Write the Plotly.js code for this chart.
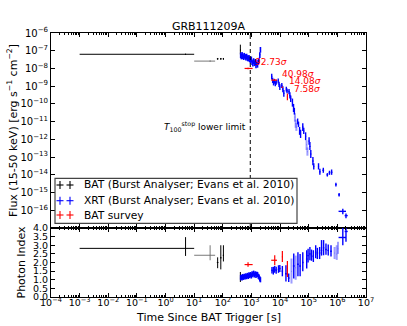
<!DOCTYPE html>
<html><head><meta charset="utf-8">
<script src="https://cdn.plot.ly/plotly-3.0.1.min.js"></script>
<style>html,body{margin:0;padding:0;background:#fff}</style>
</head><body><div id="chart" style="width:407px;height:326px"></div>
<script>
// ---------------- data ----------------
const chartTitle = 'GRB111209A';
const t100Stop = 910;

// BAT (Burst Analyser) - dark points
const batT    = [5, 66, 85, 105, 410];
const batTlo  = [0.001, 62, 80, 100, 400];
const batThi  = [10, 70, 90, 110, 420];
const batF    = [6.3e-8, 3.5e-8, 3.5e-8, 3.5e-8, 1.1e-7];
const batFlo  = [5.8e-8, 3.1e-8, 3.1e-8, 3.1e-8, 6.2e-8];
const batFhi  = [6.8e-8, 3.9e-8, 3.9e-8, 3.9e-8, 2.2e-7];
const batIdx   = [2.82, 2.0, 2.27, 2.42, 1.1];
const batIdxLo = [2.38, 1.67, 1.6, 2.06, 0.87];
const batIdxHi = [3.47, 2.3, 3.0, 3.0, 1.45];
// BAT - lighter bin
const batLT    = [36];
const batLTlo  = [10];
const batLThi  = [54];
const batLF    = [2.6e-8];
const batLFlo  = [2.4e-8];
const batLFhi  = [2.8e-8];
const batLIdx   = [2.42];
const batLIdxLo = [2.13];
const batLIdxHi = [3.0];

// XRT WT mode
const wtT = [420, 445, 470, 500, 530, 565, 600, 640, 680, 725, 770, 820, 875, 930, 990, 1050, 1120, 1190, 1270, 1350, 1440, 1530, 1630, 1740, 1850, 1960, 2060];
const wtF = [5.8e-8, 5.0e-8, 6.2e-8, 5.3e-8, 4.6e-8, 5.6e-8, 4.9e-8, 4.3e-8, 5.0e-8, 4.1e-8, 3.8e-8, 4.3e-8, 3.4e-8, 3.0e-8, 3.5e-8, 2.4e-8, 2.0e-8, 2.8e-8, 2.1e-8, 2.5e-8, 1.6e-8, 2.3e-8, 1.7e-8, 2.4e-8, 3.0e-8, 6.0e-8, 1.2e-7];
const wtIdx = [1.12, 1.15, 1.10, 1.18, 1.14, 1.20, 1.16, 1.22, 1.18, 1.25, 1.20, 1.28, 1.24, 1.30, 1.22, 1.35, 1.30, 1.38, 1.28, 1.35, 1.25, 1.32, 1.30, 1.20, 1.15, 1.05, 1.00];

// XRT PC mode flux
const pcT   = [5100, 5500, 5900, 6300, 6800, 7300, 8600, 9200, 9800, 11500, 12500, 13500, 16500, 17500, 20500, 22000, 23500, 27000, 29500, 31500, 41000, 44000, 48000, 52000, 62000, 67000, 78000, 103000, 110000, 118000, 140000, 150000, 220000, 245000, 323000, 447000, 530000, 630000, 890000, 1150000, 1550000, 2000000];
const pcF   = [3.5e-9, 2.2e-9, 1.6e-9, 1.9e-9, 1.4e-9, 1.7e-9, 2.0e-9, 1.3e-9, 9e-10, 1.1e-9, 7e-10, 4e-10, 7e-10, 5.5e-10, 5e-10, 3e-10, 2e-10, 1.2e-10, 6e-11, 4e-11, 1.0e-11, 7e-12, 3e-12, 2e-12, 5e-12, 3e-12, 1.5e-12, 8e-13, 4e-13, 1.5e-13, 6e-14, 3e-14, 3e-14, 1.5e-14, 1.8e-14, 1.0e-14, 1.3e-14, 1.4e-14, 2.8e-15, 7.5e-16, 8.7e-17, 5e-17];
const pcFlo = [2.4e-9, 1.5e-9, 1.1e-9, 1.4e-9, 1.0e-9, 1.2e-9, 1.4e-9, 9e-10, 6e-10, 8e-10, 4.5e-10, 2.5e-10, 5e-10, 4e-10, 3.5e-10, 2e-10, 1.3e-10, 7e-11, 3.5e-11, 2.5e-11, 7e-12, 5e-12, 1.8e-12, 1.2e-12, 3e-12, 2e-12, 9e-13, 5e-13, 2.5e-13, 9e-14, 3.5e-14, 2e-14, 2e-14, 1e-14, 1.3e-14, 8e-15, 1e-14, 1e-14, 2.2e-15, 6e-16, 6e-17, 3.5e-17];
const pcFhi = [5.0e-9, 3.0e-9, 2.2e-9, 2.6e-9, 1.9e-9, 2.3e-9, 2.7e-9, 1.8e-9, 1.3e-9, 1.5e-9, 1.0e-9, 6e-10, 9.3e-10, 7.5e-10, 7e-10, 4.5e-10, 3e-10, 2e-10, 1e-10, 6e-11, 1.5e-11, 1e-11, 5e-12, 3.5e-12, 8e-12, 4.5e-12, 2.5e-12, 1.3e-12, 7e-13, 2.5e-13, 1e-13, 4.5e-14, 4.5e-14, 2.2e-14, 2.5e-14, 1.25e-14, 1.7e-14, 2e-14, 3.6e-15, 9.5e-16, 1.2e-16, 6.5e-17];
const pcTlo = [4900, 5300, 5700, 6100, 6550, 7050, 8300, 8900, 9500, 11000, 12000, 13000, 16000, 17000, 19800, 21200, 22700, 26000, 28500, 30500, 39500, 42500, 46000, 50000, 60000, 64500, 75000, 99000, 106000, 114000, 135000, 145000, 210000, 235000, 300000, 420000, 500000, 590000, 840000, 1080000, 1100000, 1800000];
const pcThi = [5300, 5700, 6100, 6550, 7050, 7600, 8900, 9500, 10100, 12000, 13000, 14000, 17000, 18000, 21200, 22700, 24300, 28000, 30500, 32500, 42500, 45500, 50000, 54000, 64500, 69500, 81000, 106000, 114000, 122000, 145000, 155000, 230000, 255000, 345000, 475000, 560000, 670000, 940000, 1220000, 2000000, 2300000];
// XRT PC flux - lighter bins
const pcLT   = [33000, 35000, 37000, 84000, 90000];
const pcLF   = [1.8e-11, 8e-12, 5e-12, 5e-13, 2e-13];
const pcLFlo = [1e-11, 4.5e-12, 3e-12, 2.5e-13, 1.2e-13];
const pcLFhi = [3e-11, 1.3e-11, 8e-12, 9e-13, 3.5e-13];

// XRT PC photon index
const piT    = [5200, 5800, 6500, 7300, 8800, 9800, 12000, 16000, 20000, 30000, 42000, 50000, 62000, 85000, 95000, 110000, 125000, 145000, 175000, 200000, 240000, 280000, 330000, 400000, 480000, 600000, 1550000, 2000000];
const piIdx  = [1.55, 1.50, 1.60, 1.55, 1.60, 1.65, 1.50, 1.35, 1.10, 1.80, 1.90, 1.80, 2.00, 2.20, 2.40, 2.50, 2.40, 2.35, 2.60, 2.50, 2.55, 2.70, 2.85, 2.75, 2.70, 2.65, 3.45, 3.80];
const piLo   = [1.36, 1.30, 1.40, 1.35, 1.40, 1.45, 1.20, 0.90, 0.87, 1.07, 1.20, 1.20, 1.50, 1.65, 2.00, 2.13, 2.10, 2.03, 2.25, 2.20, 2.20, 2.40, 2.42, 2.45, 2.40, 2.35, 3.00, 3.20];
const piHi   = [1.74, 1.75, 1.80, 1.75, 1.84, 1.85, 1.80, 1.84, 1.36, 2.52, 2.60, 2.50, 2.60, 2.71, 2.80, 2.90, 2.75, 2.71, 3.00, 2.85, 2.90, 3.30, 3.30, 3.10, 3.05, 3.00, 4.20, 4.30];
const piTlo  = [5000, 5500, 6150, 6900, 8300, 9300, 11300, 15000, 18700, 28000, 39500, 47000, 58500, 80000, 90000, 104000, 118000, 137000, 165000, 189000, 226000, 264000, 311000, 377000, 452000, 565000, 1100000, 1800000];
const piThi  = [5500, 6150, 6900, 7700, 9300, 10300, 12700, 17000, 21300, 32000, 44500, 53000, 65500, 90000, 100000, 116000, 132000, 153000, 185000, 211000, 254000, 296000, 349000, 423000, 508000, 635000, 2000000, 2300000];
const piLT   = [25000, 35000, 800000, 950000, 1050000];
const piLIdx = [1.50, 1.70, 2.55, 2.50, 2.80];
const piLLo  = [0.78, 1.00, 2.20, 2.15, 2.50];
const piLHi  = [2.23, 2.40, 2.90, 3.00, 3.20];

// BAT survey
const redT    = [760, 6500, 12000, 18000];
const redTlo  = [575, 4900, 11600, 17600];
const redThi  = [1100, 7800, 12400, 18400];
const redF    = [1.0e-8, 2.2e-9, 8.5e-10, 2.5e-10];
const redFlo  = [9.0e-9, 2.0e-9, 7.8e-10, 1.6e-10];
const redFhi  = [1.1e-8, 2.4e-9, 9.3e-10, 3.9e-10];
const redIdx   = [1.88, 2.13, 2.33, 1.65];
const redIdxLo = [1.75, 1.84, 2.03, 1.16];
const redIdxHi = [2.01, 2.42, 2.66, 2.09];
const redSig   = ['92.73', '40.98', '14.08', '7.58'];

// ticks
const xTickVals = [1e-4, 1e-3, 1e-2, 1e-1, 1e0, 1e1, 1e2, 1e3, 1e4, 1e5, 1e6, 1e7];
const xTickText = ['10<sup>−4</sup>', '10<sup>−3</sup>', '10<sup>−2</sup>', '10<sup>−1</sup>', '10<sup>0</sup>', '10<sup>1</sup>', '10<sup>2</sup>', '10<sup>3</sup>', '10<sup>4</sup>', '10<sup>5</sup>', '10<sup>6</sup>', '10<sup>7</sup>'];
const yTickVals = [1e-16, 1e-15, 1e-14, 1e-13, 1e-12, 1e-11, 1e-10, 1e-9, 1e-8, 1e-7, 1e-6];
const yTickText = ['10<sup>−16</sup>', '10<sup>−15</sup>', '10<sup>−14</sup>', '10<sup>−13</sup>', '10<sup>−12</sup>', '10<sup>−11</sup>', '10<sup>−10</sup>', '10<sup>−9</sup>', '10<sup>−8</sup>', '10<sup>−7</sup>', '10<sup>−6</sup>'];
const idxTickVals = [0, 0.5, 1, 1.5, 2, 2.5, 3, 3.5, 4];
const idxTickText = ['0.0', '0.5', '1.0', '1.5', '2.0', '2.5', '3.0', '3.5', '4.0'];
const legendNames = ['BAT (Burst Analyser; Evans et al. 2010)', 'XRT (Burst Analyser; Evans et al. 2010)', 'BAT survey'];
const legendColors = ['black', 'blue', 'red'];

// ---------------- drawing ----------------
const FONT = 'DejaVu Sans, Verdana, sans-serif';
const diffUp = (v, hi) => hi.map((h, i) => h - v[i]);
const diffDn = (v, lo) => v.map((x, i) => x - lo[i]);

function eb(x, y, xlo, xhi, ylo, yhi, color, w, xa, ya) {
  const t = {
    type: 'scatter', mode: 'markers', x: x, y: y, xaxis: xa, yaxis: ya,
    marker: {size: 1, color: color}, showlegend: false, hoverinfo: 'skip',
    error_y: {type: 'data', symmetric: false, array: diffUp(y, yhi), arrayminus: diffDn(y, ylo), color: color, thickness: w, width: 0}
  };
  if (xlo) t.error_x = {type: 'data', symmetric: false, array: diffUp(x, xhi), arrayminus: diffDn(x, xlo), color: color, thickness: w, width: 0};
  return t;
}
const BLUE = 'rgb(0,0,255)', LBLUE = 'rgba(60,60,255,0.5)', GRAY = 'rgb(120,120,120)';
const traces = [
  // flux panel
  eb(batT, batF, batTlo, batThi, batFlo, batFhi, 'black', 1, 'x', 'y'),
  eb(batLT, batLF, batLTlo, batLThi, batLFlo, batLFhi, GRAY, 1, 'x', 'y'),
  {type: 'scatter', mode: 'markers', x: wtT, y: wtF, xaxis: 'x', yaxis: 'y', marker: {size: 1, color: BLUE}, showlegend: false, hoverinfo: 'skip',
   error_y: {type: 'percent', value: 35, color: BLUE, thickness: 1.6, width: 0},
   error_x: {type: 'percent', value: 3, color: BLUE, thickness: 1.2, width: 0}},
  eb(pcLT, pcLF, null, null, pcLFlo, pcLFhi, LBLUE, 2, 'x', 'y'),
  eb(pcT, pcF, pcTlo, pcThi, pcFlo, pcFhi, BLUE, 1.4, 'x', 'y'),
  eb(redT, redF, redTlo, redThi, redFlo, redFhi, 'red', 1.2, 'x', 'y'),
  // photon index panel
  eb(batT, batIdx, batTlo, batThi, batIdxLo, batIdxHi, 'black', 1, 'x2', 'y2'),
  eb(batLT, batLIdx, batLTlo, batLThi, batLIdxLo, batLIdxHi, GRAY, 1, 'x2', 'y2'),
  {type: 'scatter', mode: 'markers', x: wtT, y: wtIdx, xaxis: 'x2', yaxis: 'y2', marker: {size: 1, color: BLUE}, showlegend: false, hoverinfo: 'skip',
   error_y: {type: 'constant', value: 0.15, color: BLUE, thickness: 1.6, width: 0},
   error_x: {type: 'percent', value: 3, color: BLUE, thickness: 1.2, width: 0}},
  eb(piLT, piLIdx, null, null, piLLo, piLHi, LBLUE, 2, 'x2', 'y2'),
  eb(piT, piIdx, piTlo, piThi, piLo, piHi, BLUE, 1.4, 'x2', 'y2'),
  eb(redT, redIdx, redTlo, redThi, redIdxLo, redIdxHi, 'red', 1.2, 'x2', 'y2')
];

const W = 407, H = 326, ML = 51, MR = 41, MT = 33, MB = 29;
const PW = W - ML - MR, PH = H - MT - MB;
const px2x = px => (px - ML) / PW;
const py2y = py => (H - MB - py) / PH;
const split = py2y(228);

const annotations = [
  {text: 'Flux (15-50 keV) [erg s<sup>−1</sup> cm<sup>−2</sup>]', xref: 'paper', yref: 'paper', x: 0, y: (split + 1) / 2, xshift: -38.5, xanchor: 'center', yanchor: 'middle', textangle: -90, showarrow: false, font: {size: 11}},
  {text: 'Photon Index', xref: 'paper', yref: 'paper', x: 0, y: split / 2, xshift: -30, xanchor: 'center', yanchor: 'middle', textangle: -90, showarrow: false, font: {size: 11}},
  {text: 'Time Since BAT Trigger [s]', xref: 'paper', yref: 'paper', x: 0.5, y: 0, yshift: -20, xanchor: 'center', yanchor: 'middle', showarrow: false, font: {size: 11}},
  {text: '<i>T</i><sub>100</sub><sup>stop</sup> lower limit', xref: 'x', yref: 'y', x: Math.log10(t100Stop), y: -11.3, xanchor: 'right', yanchor: 'middle', xshift: -2, showarrow: false, font: {size: 9}}
];
redSig.forEach((s, i) => annotations.push({
  text: s + '<i>σ</i>', xref: 'x', yref: 'y', x: Math.log10(redT[i]), y: Math.log10(redF[i]),
  xanchor: 'left', yanchor: 'middle', xshift: 5, yshift: i === 3 ? 8 : 6, showarrow: false, font: {size: 9, color: 'red'}
}));

const shapes = [
  {type: 'line', xref: 'x', yref: 'paper', x0: t100Stop, x1: t100Stop, y0: split, y1: 1, line: {color: 'black', width: 1, dash: '4px,3px'}, layer: 'above'},
  {type: 'rect', xref: 'paper', yref: 'paper', x0: px2x(55), x1: px2x(297), y0: py2y(223.3), y1: py2y(178.3), line: {color: '#444', width: 1.2}, fillcolor: 'white', layer: 'above'}
];
const rowsY = [185, 200.7, 215];
legendNames.forEach((name, i) => {
  const yp = py2y(rowsY[i]);
  [60, 70].forEach(cx => {
    const xp = px2x(cx);
    shapes.push({type: 'line', xref: 'paper', yref: 'paper', xsizemode: 'pixel', ysizemode: 'pixel', xanchor: xp, yanchor: yp, x0: -3.5, x1: 3.5, y0: 0, y1: 0, line: {color: legendColors[i], width: 1.1}, layer: 'above'});
    shapes.push({type: 'line', xref: 'paper', yref: 'paper', xsizemode: 'pixel', ysizemode: 'pixel', xanchor: xp, yanchor: yp, x0: 0, x1: 0, y0: -4, y1: 4, line: {color: legendColors[i], width: 1.1}, layer: 'above'});
  });
  annotations.push({text: name, xref: 'paper', yref: 'paper', x: px2x(81.7), y: yp, xanchor: 'left', yanchor: 'middle', showarrow: false, font: {size: 10.7}});
});

const xCommon = {
  type: 'log', range: [-4, 7], showline: true, linecolor: 'black', linewidth: 1, mirror: 'allticks',
  ticks: 'inside', ticklen: 4, tickcolor: 'black', tickwidth: 1, showgrid: false, zeroline: false,
  tickmode: 'array', tickvals: xTickVals, ticktext: xTickText,
  minor: {ticks: 'inside', ticklen: 2, tickcolor: 'black', dtick: 'D1', showgrid: false}
};
const layout = {
  width: W, height: H, margin: {l: ML, r: MR, t: MT, b: MB}, paper_bgcolor: 'white', plot_bgcolor: 'white',
  font: {family: FONT, size: 10, color: 'black'}, showlegend: false,
  title: {text: chartTitle, font: {size: 11}, x: 0.5, xref: 'paper', y: 1 - 26 / H, yref: 'container', yanchor: 'middle'},
  xaxis: Object.assign({}, xCommon, {anchor: 'y', showticklabels: false}),
  xaxis2: Object.assign({}, xCommon, {anchor: 'y2', matches: 'x', showticklabels: true, tickfont: {size: 9.5}, ticklabelstandoff: -3}),
  yaxis: {type: 'log', domain: [split, 1], range: [-17, -6], anchor: 'x', showline: true, linecolor: 'black', linewidth: 1, mirror: 'allticks',
          ticks: 'inside', ticklen: 4, tickcolor: 'black', showgrid: false, zeroline: false, tickmode: 'array', tickvals: yTickVals, ticktext: yTickText, tickfont: {size: 10}},
  yaxis2: {domain: [0, split], range: [0, 4], anchor: 'x2', showline: true, linecolor: 'black', linewidth: 1, mirror: 'allticks',
           ticks: 'inside', ticklen: 4, tickcolor: 'black', showgrid: false, zeroline: false, tickmode: 'array', tickvals: idxTickVals, ticktext: idxTickText, tickfont: {size: 9.5}},
  annotations: annotations, shapes: shapes
};
Plotly.newPlot('chart', traces, layout, {displayModeBar: false, staticPlot: true});
</script>
</body></html>
